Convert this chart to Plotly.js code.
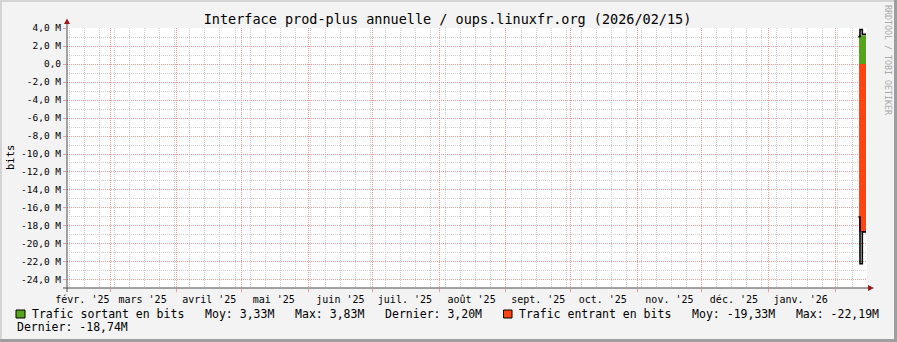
<!DOCTYPE html>
<html><head><meta charset="utf-8">
<script src="https://cdn.plot.ly/plotly-3.0.1.min.js"></script>
<style>html,body{margin:0;padding:0;background:#f3f3f3;} #chart{width:897px;height:342px;}</style>
</head><body><div id="chart"></div>
<script>
// ---- data ----
const chartTitle = "Interface prod-plus annuelle / oups.linuxfr.org (2026/02/15)";
const yAxisTitle = "bits";
const watermark = "RRDTOOL / TOBI OETIKER";
const seriesNames = ["Trafic sortant en bits", "Trafic entrant en bits"];
const seriesColors = ["#56A41C", "#FF4412"];
// average traffic (M bits), drawn as areas
const areaTimes = ["2026-02-12 04:00", "2026-02-13 16:00", "2026-02-15 10:00"];
const outAvg = [3.2, 3.2, 3.2];
const inAvg = [-18.7, -18.7, -18.7];
// maximum traffic (M bits), drawn as black outlines
const maxTimes = ["2026-02-11 20:00", "2026-02-12 15:00", "2026-02-13 16:40", "2026-02-15 10:00"];
const outMax = [3.03, 3.83, 3.3, 3.3];
const inMax = [-17.0, -22.19, -18.65, -18.65];
// legend statistics (M bits)
const statMoy = [3.33, -19.33];
const statMax = [3.83, -22.19];
const statDernier = [3.20, -18.74];
// axes
const monthStarts = ["2025-03-01","2025-04-01","2025-05-01","2025-06-01","2025-07-01","2025-08-01",
  "2025-09-01","2025-10-01","2025-11-01","2025-12-01","2026-01-01","2026-02-01"];
const monthLabelPos = ["2025-02-16","2025-03-16","2025-04-16","2025-05-16","2025-06-16","2025-07-16",
  "2025-08-16","2025-09-16","2025-10-16","2025-11-16","2025-12-16","2026-01-16"];
const monthLabels = ["févr. '25","mars '25","avril '25","mai '25","juin '25","juil. '25",
  "août '25","sept. '25","oct. '25","nov. '25","déc. '25","janv. '26"];
const yTickVals = [4,2,0,-2,-4,-6,-8,-10,-12,-14,-16,-18,-20,-22,-24];
const yTickText = ["4,0 M","2,0 M","0,0","-2,0 M","-4,0 M","-6,0 M","-8,0 M","-10,0 M","-12,0 M",
  "-14,0 M","-16,0 M","-18,0 M","-20,0 M","-22,0 M","-24,0 M"];
const xRange = ["2025-02-08 20:38", "2026-02-15 21:07"];
const yRange = [-24.89, 4.0];

// ---- layout helpers (decoration only) ----
const L = 67, R = 30, T = 28, B = 54, W = 897, H = 342;
const PW = W - L - R, PH = H - T - B;
const px = x => (x - L) / PW;
const py = y => (H - B - y) / PH;
const FONT = "DejaVu Sans Mono";
const nb = s => s.replace(/ /g, "\u00a0");
const fmt = v => v.toFixed(2).replace(".", ",") + "M";

const majorGrid = "#F29A9A", minorGrid = "#CFCFCF", dash = "1px,1px";

const traces = [
  {x: areaTimes, y: outAvg, type: "scatter", mode: "lines", fill: "tozeroy",
   fillcolor: seriesColors[0], line: {width: 0, shape: "hv", color: seriesColors[0]}, showlegend: false},
  {x: areaTimes, y: inAvg, type: "scatter", mode: "lines", fill: "tozeroy",
   fillcolor: seriesColors[1], line: {width: 0, shape: "hv", color: seriesColors[1]}, showlegend: false},
  {x: maxTimes, y: outMax, type: "scatter", mode: "lines", line: {width: 1.6, shape: "hv", color: "#000"}, showlegend: false},
  {x: maxTimes, y: inMax, type: "scatter", mode: "lines", line: {width: 1.6, shape: "hv", color: "#000"}, showlegend: false},
  {x: [], y: [], xaxis: "x2", yaxis: "y", type: "scatter", showlegend: false}
];

const shapes = [
  // frame
  {type: "rect", xref: "paper", yref: "paper", x0: px(0), x1: px(W), y0: py(2), y1: py(0), fillcolor: "#d4d4d4", line: {width: 0}, layer: "above"},
  {type: "rect", xref: "paper", yref: "paper", x0: px(0), x1: px(2), y0: py(H), y1: py(0), fillcolor: "#d4d4d4", line: {width: 0}, layer: "above"},
  {type: "rect", xref: "paper", yref: "paper", x0: px(0), x1: px(W), y0: py(H), y1: py(H - 3), fillcolor: "#9e9e9e", line: {width: 0}, layer: "above"},
  {type: "rect", xref: "paper", yref: "paper", x0: px(W - 3), x1: px(W), y0: py(H), y1: py(0), fillcolor: "#9e9e9e", line: {width: 0}, layer: "above"},
  // axes
  {type: "line", xref: "paper", yref: "paper", x0: px(67), x1: px(67), y0: py(292), y1: py(23), line: {color: "#4a4a4a", width: 1}, layer: "above"},
  {type: "line", xref: "paper", yref: "paper", x0: px(63), x1: px(869), y0: py(288), y1: py(288), line: {color: "#4a4a4a", width: 1}, layer: "above"},
  {type: "path", xref: "paper", yref: "paper", path: `M${px(64)},${py(24)} L${px(70)},${py(24)} L${px(67)},${py(18.5)} Z`, fillcolor: "#9b1c1c", line: {width: 0}, layer: "above"},
  {type: "path", xref: "paper", yref: "paper", path: `M${px(868)},${py(285)} L${px(868)},${py(291)} L${px(874)},${py(288)} Z`, fillcolor: "#9b1c1c", line: {width: 0}, layer: "above"},
  // legend swatches
  {type: "rect", xref: "paper", yref: "paper", x0: px(16), x1: px(25), y0: py(318), y1: py(310), fillcolor: seriesColors[0], line: {color: "#000", width: 1}, layer: "above"},
  {type: "rect", xref: "paper", yref: "paper", x0: px(503.5), x1: px(512), y0: py(318), y1: py(310), fillcolor: seriesColors[1], line: {color: "#000", width: 1}, layer: "above"}
];

const legFont = {family: FONT, size: 11.5, color: "#000"};
const annotations = [
  {xref: "paper", yref: "paper", x: px(10), y: py(158), text: yAxisTitle, textangle: -90, showarrow: false,
   xanchor: "center", yanchor: "middle", font: {family: FONT, size: 10.5, color: "#000"}},
  {xref: "paper", yref: "paper", x: px(888), y: py(60), text: watermark, textangle: 90, showarrow: false,
   xanchor: "center", yanchor: "middle", font: {family: FONT, size: 8.3, color: "#aaaaaa"}},
  {xref: "paper", yref: "paper", x: px(30), y: py(314), xanchor: "left", yanchor: "middle", showarrow: false, font: legFont,
   text: nb(`${seriesNames[0]}   Moy: ${fmt(statMoy[0])}   Max: ${fmt(statMax[0])}   Dernier: ${fmt(statDernier[0])}`)},
  {xref: "paper", yref: "paper", x: px(517), y: py(314), xanchor: "left", yanchor: "middle", showarrow: false, font: legFont,
   text: nb(`${seriesNames[1]}   Moy: ${fmt(statMoy[1])}   Max: ${fmt(statMax[1])}`)},
  {xref: "paper", yref: "paper", x: px(15), y: py(327), xanchor: "left", yanchor: "middle", showarrow: false, font: legFont,
   text: nb(`Dernier: ${fmt(statDernier[1])}`)}
];

const layout = {
  width: W, height: H,
  margin: {l: L, r: R, t: T, b: B, pad: 0},
  paper_bgcolor: "#f3f3f3", plot_bgcolor: "#ffffff",
  font: {family: FONT, color: "#000"},
  title: {text: chartTitle, x: 447.5 / W, xanchor: "center", y: 1 - 19 / H, yanchor: "middle",
          font: {family: FONT, size: 13.5, color: "#000"}},
  showlegend: false,
  xaxis: {type: "date", range: xRange, tickmode: "array", tickvals: monthStarts, showticklabels: false,
          showgrid: true, gridcolor: majorGrid, griddash: dash, gridwidth: 1,
          ticks: "outside", ticklen: 3, tickcolor: majorGrid, showline: false, zeroline: false,
          minor: {tick0: "2025-02-10", dtick: 604800000, showgrid: true, gridcolor: minorGrid, griddash: dash, ticks: ""}},
  xaxis2: {type: "date", range: xRange, overlaying: "x", anchor: "y", side: "bottom",
           tickmode: "array", tickvals: monthLabelPos, ticktext: monthLabels, showgrid: false,
           ticks: "outside", ticklen: 2, tickcolor: "rgba(0,0,0,0)", showline: false, zeroline: false,
           tickfont: {family: FONT, size: 10, color: "#000"}},
  yaxis: {range: yRange, tickmode: "array", tickvals: yTickVals, ticktext: yTickText,
          showgrid: true, gridcolor: majorGrid, griddash: dash, gridwidth: 1,
          ticks: "outside", ticklen: 3, tickcolor: majorGrid, showline: false, zeroline: false,
          tickfont: {family: FONT, size: 9.5, color: "#000"},
          minor: {tick0: 0, dtick: 1, showgrid: true, gridcolor: minorGrid, griddash: dash, ticks: ""}},
  shapes: shapes,
  annotations: annotations
};

Plotly.newPlot("chart", traces, layout, {staticPlot: true, displayModeBar: false});
</script>
</body></html>
